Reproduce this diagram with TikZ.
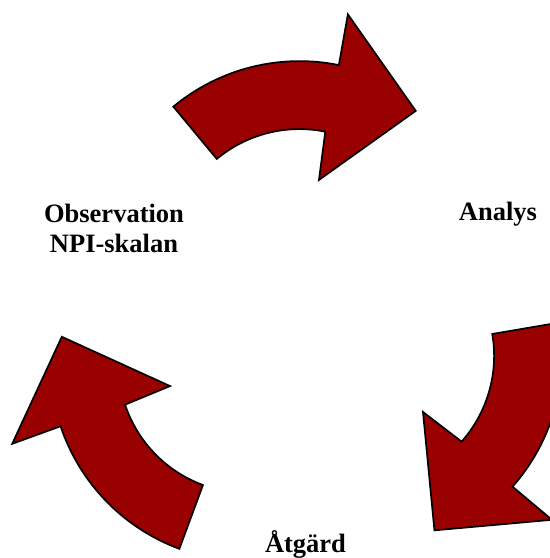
\documentclass[tikz,border=0pt]{standalone}
\usepackage{fontspec}
\setmainfont{Liberation Serif}
\definecolor{cykelrod}{RGB}{153,0,0}
\usetikzlibrary{positioning}
\tikzset{
  pil/.style={fill=cykelrod,draw=black,line width=0.85pt,line join=miter},
  etikett/.style={font=\fontsize{13.25}{15}\selectfont\bfseries,align=center,inner sep=0pt},
}
\begin{document}
\begin{tikzpicture}[x=0.5pt,y=0.5pt]
    \def\R{197.5}\def\r{129.5}
    \clip (0,0) rectangle (550,558);
    % pil 1 -- uppe, mot Analys
    \filldraw[pil,shift={(299.5,299.4)}] (129.7:\R) arc[start angle=129.7,end angle=78.5,radius=\R]
      -- (78.8:249) -- (51.8:188) -- (76.1:81) -- (78.5:\r) arc[start angle=78.5,end angle=129.7,radius=\r] -- cycle;
    % pil 2 -- till hoger, mot Åtgärd
    \begin{scope}[rotate around={240:(304,232)}]
    \filldraw[pil,shift={(299.5,299.4)}] (129.7:\R) arc[start angle=129.7,end angle=78.5,radius=\R]
      -- (78.8:249) -- (51.8:188) -- (76.1:81) -- (78.5:\r) arc[start angle=78.5,end angle=129.7,radius=\r] -- cycle;
    \end{scope}
    % pil 3 -- till vanster, mot Observation
    \begin{scope}[rotate around={120:(304,232)}]
    \filldraw[pil,shift={(299.5,299.4)}] (129.7:\R) arc[start angle=129.7,end angle=78.5,radius=\R]
      -- (78.8:249) -- (51.8:188) -- (76.1:81) -- (78.5:\r) arc[start angle=78.5,end angle=129.7,radius=\r] -- cycle;
    \end{scope}
    % texterna
    \node[etikett,anchor=base] (obs) at (114,305.3) {Observation\\NPI-skalan};
    \node[etikett,anchor=base] (analys) at (498,337.3) {Analys};
    \node[etikett,anchor=base] (atgard) at (305.5,5.3) {Åtgärd};
\end{tikzpicture}
\end{document}
